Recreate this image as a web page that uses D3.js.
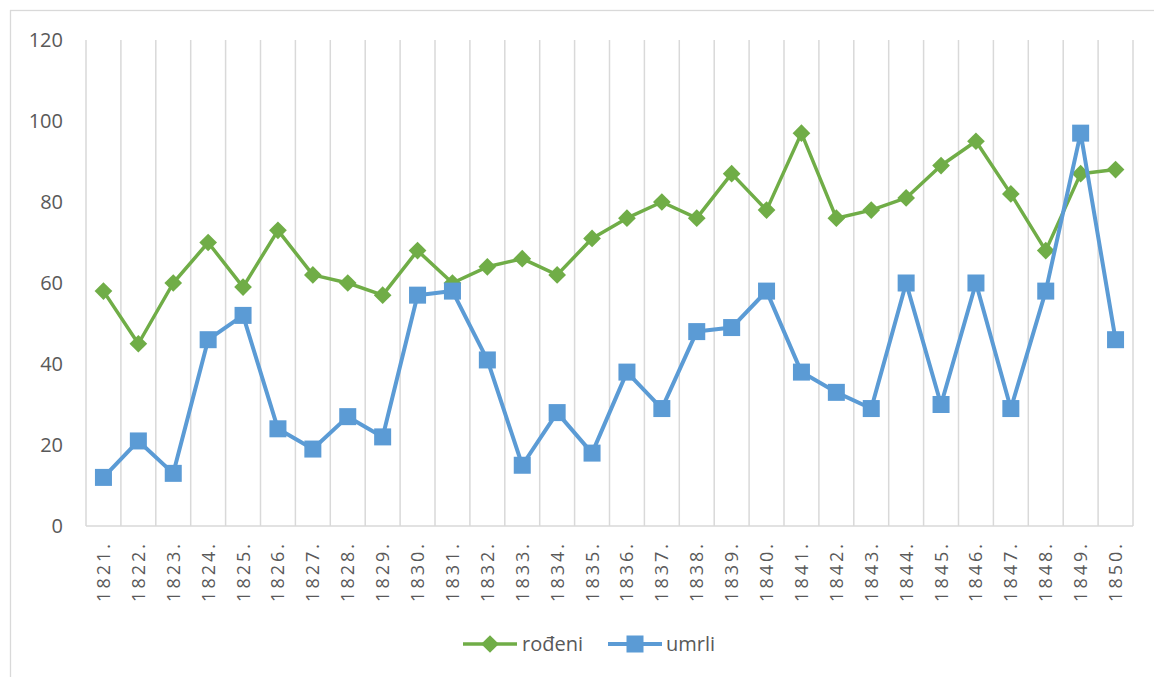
<!DOCTYPE html>
<html>
<head>
<meta charset="utf-8">
<style>
  body { margin: 0; background: #fff; }
  text { font-family: "Open Sans", "Liberation Sans", sans-serif; fill: #595959; }
</style>
</head>
<body>
<div id="chart"></div>
<script src="https://d3js.org/d3.v7.min.js"></script>
<script>
var years = ["1821.", "1822.", "1823.", "1824.", "1825.", "1826.", "1827.", "1828.", "1829.", "1830.",
             "1831.", "1832.", "1833.", "1834.", "1835.", "1836.", "1837.", "1838.", "1839.", "1840.",
             "1841.", "1842.", "1843.", "1844.", "1845.", "1846.", "1847.", "1848.", "1849.", "1850."];
var rodeni = [58, 45, 60, 70, 59, 73, 62, 60, 57, 68,
              60, 64, 66, 62, 71, 76, 80, 76, 87, 78,
              97, 76, 78, 81, 89, 95, 82, 68, 87, 88];
var umrli = [12, 21, 13, 46, 52, 24, 19, 27, 22, 57,
             58, 41, 15, 28, 18, 38, 29, 48, 49, 58,
             38, 33, 29, 60, 30, 60, 29, 58, 97, 46];
var yTicks = [0, 20, 40, 60, 80, 100, 120];

var W = 1154, H = 677;
var margin = {top: 40, right: 21, bottom: 151, left: 86};
var width = W - margin.left - margin.right,
    height = H - margin.top - margin.bottom;

var svg = d3.select("#chart").append("svg")
    .attr("width", W)
    .attr("height", H);

// chart frame
svg.append("rect")
    .attr("x", 10.5).attr("y", 10.5)
    .attr("width", 1200).attr("height", 700)
    .attr("fill", "none")
    .attr("stroke", "#d9d9d9")
    .attr("stroke-width", 1.3);

var g = svg.append("g").attr("transform", "translate(" + margin.left + "," + margin.top + ")");

var x = d3.scaleBand().domain(years).range([0, width]).padding(0);
var y = d3.scaleLinear().domain([0, 120]).range([height, 0]);

// vertical category gridlines
var bounds = d3.range(years.length + 1).map(function(i) { return i * x.step(); });
g.append("g").selectAll("line")
    .data(bounds)
    .enter().append("line")
    .attr("x1", function(d) { return d; })
    .attr("x2", function(d) { return d; })
    .attr("y1", 0)
    .attr("y2", height)
    .attr("stroke", "#d9d9d9")
    .attr("stroke-width", 1.5);

// x axis line
g.append("line")
    .attr("x1", 0).attr("x2", width)
    .attr("y1", height).attr("y2", height)
    .attr("stroke", "#d9d9d9")
    .attr("stroke-width", 1.5);

// y axis labels
var yAxis = g.append("g")
    .call(d3.axisLeft(y).tickValues(yTicks).tickSize(0).tickPadding(23));
yAxis.select(".domain").remove();
yAxis.selectAll("text")
    .style("font-size", "20px")
    .style("font-family", "'Open Sans', sans-serif")
    .attr("fill", "#595959");

// x axis labels (rotated)
var xAxis = g.append("g")
    .attr("transform", "translate(0," + height + ")")
    .call(d3.axisBottom(x).tickSize(0).tickPadding(0));
xAxis.select(".domain").remove();
xAxis.selectAll("text")
    .attr("transform", "rotate(-90)")
    .attr("x", -15)
    .attr("y", 0)
    .attr("dy", "0.36em")
    .style("text-anchor", "end")
    .style("font-size", "18px")
    .style("letter-spacing", "3px")
    .style("font-family", "'Open Sans', sans-serif")
    .attr("fill", "#595959");

var cx = function(d, i) { return x(years[i]) + x.bandwidth() / 2; };

var line = d3.line()
    .x(function(d, i) { return cx(d, i); })
    .y(function(d) { return y(d); });

// rođeni
g.append("path")
    .datum(rodeni)
    .attr("fill", "none")
    .attr("stroke", "#70ad47")
    .attr("stroke-width", 3.5)
    .attr("stroke-linejoin", "round")
    .attr("d", line);

var diamond = d3.symbol().type(d3.symbolDiamond2).size(200);
g.append("g").selectAll("path")
    .data(rodeni)
    .enter().append("path")
    .attr("d", diamond)
    .attr("transform", function(d, i) { return "translate(" + cx(d, i) + "," + y(d) + ")"; })
    .attr("fill", "#70ad47");

// umrli
g.append("path")
    .datum(umrli)
    .attr("fill", "none")
    .attr("stroke", "#5b9bd5")
    .attr("stroke-width", 4)
    .attr("stroke-linejoin", "round")
    .attr("d", line);

g.append("g").selectAll("rect")
    .data(umrli)
    .enter().append("rect")
    .attr("x", function(d, i) { return cx(d, i) - 8.5; })
    .attr("y", function(d) { return y(d) - 8.5; })
    .attr("width", 17)
    .attr("height", 17)
    .attr("fill", "#5b9bd5");

// legend
var legend = svg.append("g").attr("transform", "translate(0,644)");
legend.append("line")
    .attr("x1", 463).attr("x2", 517)
    .attr("stroke", "#70ad47").attr("stroke-width", 3.5);
legend.append("path")
    .attr("d", diamond)
    .attr("transform", "translate(490,0)")
    .attr("fill", "#70ad47");
legend.append("text")
    .attr("x", 522).attr("y", 0).attr("dy", "0.35em")
    .style("font-size", "20px")
    .text("rođeni");

legend.append("line")
    .attr("x1", 608).attr("x2", 662)
    .attr("stroke", "#5b9bd5").attr("stroke-width", 4);
legend.append("rect")
    .attr("x", 635 - 8.5).attr("y", -8.5)
    .attr("width", 17).attr("height", 17)
    .attr("fill", "#5b9bd5");
legend.append("text")
    .attr("x", 666).attr("y", 0).attr("dy", "0.35em")
    .style("font-size", "20px")
    .text("umrli");
</script>
</body>
</html>
